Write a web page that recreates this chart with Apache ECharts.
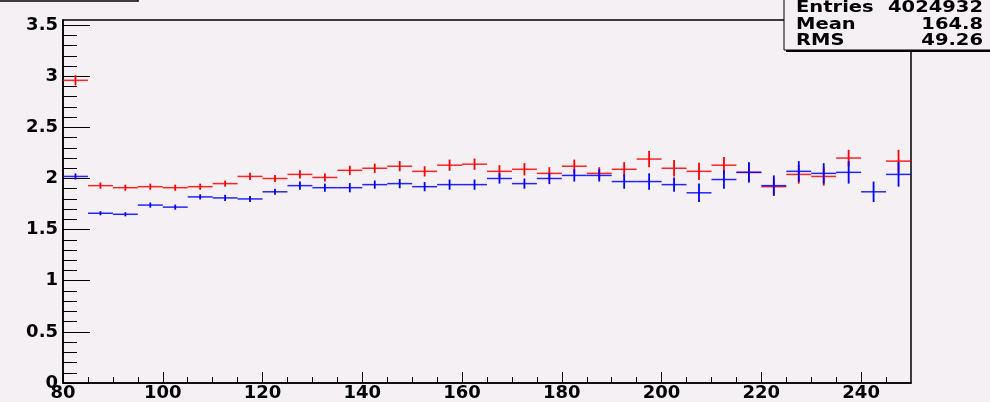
<!DOCTYPE html>
<html>
<head>
<meta charset="utf-8">
<script src="https://cdn.jsdelivr.net/npm/echarts@6/dist/echarts.min.js"></script>
<style>
  html, body { margin: 0; padding: 0; background: #f4f0f4; }
  #chart { width: 990px; height: 402px; }
</style>
</head>
<body>
<div id="chart"></div>
<script>
  var binCenters = [82.5, 87.5, 92.5, 97.5, 102.5, 107.5, 112.5, 117.5, 122.5, 127.5,
    132.5, 137.5, 142.5, 147.5, 152.5, 157.5, 162.5, 167.5, 172.5, 177.5,
    182.5, 187.5, 192.5, 197.5, 202.5, 207.5, 212.5, 217.5, 222.5, 227.5,
    232.5, 237.5, 242.5, 247.5];
  var binWidth = 5;

  var redValues = [2.96, 1.93, 1.91, 1.92, 1.91, 1.92, 1.95, 2.02, 2.00, 2.04,
    2.01, 2.08, 2.10, 2.12, 2.07, 2.13, 2.14, 2.07, 2.09, 2.05,
    2.12, 2.05, 2.09, 2.19, 2.10, 2.07, 2.13, 2.06, 1.92, 2.04,
    2.02, 2.20, null, 2.17];
  var redErrors = [0.05, 0.03, 0.03, 0.03, 0.03, 0.03, 0.03, 0.035, 0.035, 0.04,
    0.04, 0.045, 0.045, 0.05, 0.05, 0.055, 0.055, 0.06, 0.06, 0.06,
    0.065, 0.06, 0.07, 0.08, 0.08, 0.085, 0.08, 0.09, 0.08, 0.09,
    0.09, 0.08, null, 0.11];

  var blueValues = [2.02, 1.66, 1.65, 1.74, 1.72, 1.82, 1.81, 1.80, 1.87, 1.93,
    1.91, 1.91, 1.94, 1.95, 1.92, 1.94, 1.94, 2.00, 1.95, 2.00,
    2.03, 2.03, 1.97, 1.97, 1.94, 1.86, 1.99, 2.06, 1.93, 2.07,
    2.05, 2.06, 1.87, 2.04];
  var blueErrors = [0.03, 0.02, 0.02, 0.025, 0.025, 0.025, 0.03, 0.03, 0.03, 0.04,
    0.04, 0.045, 0.04, 0.045, 0.045, 0.05, 0.05, 0.05, 0.05, 0.055,
    0.06, 0.06, 0.07, 0.08, 0.07, 0.09, 0.09, 0.1, 0.1, 0.1,
    0.1, 0.11, 0.1, 0.12];

  var xMajorTicks = [80, 100, 120, 140, 160, 180, 200, 220, 240];
  var xMinorTicks = [85, 90, 95, 105, 110, 115, 125, 130, 135, 145, 150, 155,
    165, 170, 175, 185, 190, 195, 205, 210, 215, 225, 230, 235, 245];
  var yMajorTicks = [0, 0.5, 1, 1.5, 2, 2.5, 3, 3.5];
  var yMinorTicks = [0.1, 0.2, 0.3, 0.4, 0.6, 0.7, 0.8, 0.9, 1.1, 1.2, 1.3, 1.4,
    1.6, 1.7, 1.8, 1.9, 2.1, 2.2, 2.3, 2.4, 2.6, 2.7, 2.8, 2.9,
    3.1, 3.2, 3.3, 3.4];

  var statLabels = ['Entries', 'Mean', 'RMS'];
  var statValues = ['4024932', '164.8', '49.26'];

  var bg = '#f4f0f4';
  var labelFont = 'DejaVu Sans';

  function toData(values, errors) {
    var out = [];
    for (var i = 0; i < binCenters.length; i++) {
      if (values[i] == null) continue;
      out.push([binCenters[i], values[i], errors[i]]);
    }
    return out;
  }

  function crossRenderer(color) {
    return function (params, api) {
      var x = api.value(0), y = api.value(1), e = api.value(2);
      var l = api.coord([x - binWidth / 2, y]);
      var r = api.coord([x + binWidth / 2, y]);
      var t = api.coord([x, y + e]);
      var b = api.coord([x, y - e]);
      return {
        type: 'group',
        children: [
          { type: 'line', shape: { x1: l[0], y1: l[1], x2: r[0], y2: r[1] },
            style: { stroke: color, lineWidth: 1.5, opacity: 0.85 } },
          { type: 'line', shape: { x1: t[0], y1: t[1], x2: b[0], y2: b[1] },
            style: { stroke: color, lineWidth: 1.8 } }
        ]
      };
    };
  }

  var myChart = echarts.init(document.getElementById('chart'));

  var statGraphics = [
    { type: 'rect', shape: { x: 786, y: 0, width: 210, height: 52 }, style: { fill: '#000' }, z: 100 },
    { type: 'rect', shape: { x: 784, y: -2, width: 210, height: 52 }, style: { fill: bg, stroke: '#000', lineWidth: 1 }, z: 101 },
    { type: 'rect', shape: { x: -5, y: -20, width: 143, height: 21 }, style: { fill: 'none', stroke: '#000', lineWidth: 1.5 }, z: 101 }
  ];
  for (var i = 0; i < statLabels.length; i++) {
    var cy = 8 + i * 16.7;
    statGraphics.push({
      type: 'text', x: 796, y: cy, scaleX: 1.3, z: 102,
      style: { text: statLabels[i], fill: '#000', font: 'bold 15px ' + labelFont,
        textAlign: 'left', textVerticalAlign: 'middle' }
    });
    statGraphics.push({
      type: 'text', x: 983, y: cy, scaleX: 1.3, z: 102,
      style: { text: statValues[i], fill: '#000', font: 'bold 15px ' + labelFont,
        textAlign: 'right', textVerticalAlign: 'middle' }
    });
  }

  var option = {
    backgroundColor: bg,
    animation: false,
    grid: {
      left: 63, right: 79, top: 20, bottom: 18,
      show: true, borderColor: '#000', borderWidth: 1.5, backgroundColor: bg
    },
    xAxis: [
      {
        type: 'value', min: 80, max: 250, position: 'bottom',
        axisLine: { show: true, lineStyle: { color: '#000', width: 1.5 } },
        axisTick: { show: true, inside: true, length: 11, customValues: xMajorTicks,
          lineStyle: { color: '#000', width: 1 } },
        axisLabel: { customValues: xMajorTicks, margin: 1, color: '#000',
          fontFamily: labelFont, fontWeight: 'bold', fontSize: 18 },
        splitLine: { show: false }
      },
      {
        type: 'value', min: 80, max: 250, position: 'bottom',
        axisLine: { show: false },
        axisTick: { show: true, inside: true, length: 6, customValues: xMinorTicks,
          lineStyle: { color: '#000', width: 1 } },
        axisLabel: { show: false },
        splitLine: { show: false }
      }
    ],
    yAxis: [
      {
        type: 'value', min: 0, max: 3.55, position: 'left',
        axisLine: { show: true, lineStyle: { color: '#000', width: 1.5 } },
        axisTick: { show: true, inside: true, length: 27, customValues: yMajorTicks,
          lineStyle: { color: '#000', width: 1 } },
        axisLabel: { customValues: yMajorTicks, margin: 5, color: '#000',
          fontFamily: labelFont, fontWeight: 'bold', fontSize: 18 },
        splitLine: { show: false }
      },
      {
        type: 'value', min: 0, max: 3.55, position: 'left',
        axisLine: { show: false },
        axisTick: { show: true, inside: true, length: 14, customValues: yMinorTicks,
          lineStyle: { color: '#000', width: 1 } },
        axisLabel: { show: false },
        splitLine: { show: false }
      }
    ],
    series: [
      {
        name: 'red', type: 'custom', xAxisIndex: 0, yAxisIndex: 0,
        renderItem: crossRenderer('#ff0000'),
        data: toData(redValues, redErrors), clip: true, z: 3
      },
      {
        name: 'blue', type: 'custom', xAxisIndex: 0, yAxisIndex: 0,
        renderItem: crossRenderer('#0000ff'),
        data: toData(blueValues, blueErrors), clip: true, z: 4
      }
    ],
    graphic: statGraphics
  };

  myChart.setOption(option);
  window.addEventListener('resize', function () {
    myChart.resize();
  });
</script>
</body>
</html>
